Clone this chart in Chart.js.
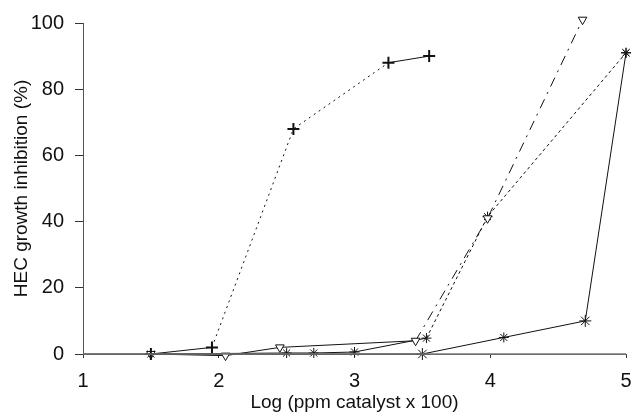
<!DOCTYPE html>
<html>
<head>
<meta charset="utf-8">
<script src="https://cdn.jsdelivr.net/npm/chart.js@4"></script>
<style>
  html, body { margin: 0; padding: 0; background: #fff; }
  #wrap { width: 634px; height: 413px; }
</style>
</head>
<body>
<div id="wrap"><canvas id="hecChart"></canvas></div>
<script>
// values (x = log of ppm catalyst x 100, y = % inhibition)
const xTicks = [1, 2, 3, 4, 5];
const yTicks = [0, 20, 40, 60, 80, 100];

const plusX = [1.5, 1.95, 2.55, 3.25, 3.55];
const plusY = [0, 2, 68, 88, 90];

const heartX = [1.5, 2.05, 2.45, 3.45, 3.98, 4.68];
const heartY = [0, -0.5, 2, 4, 41, 101];

const starX = [1.5, 2.5, 2.7, 3.0, 3.53, 3.98, 5.0];
const starY = [0, 0.3, 0.3, 0.6, 4.8, 41.5, 91];

const astX = [1.0, 3.5, 4.1, 4.7, 5.0];
const astY = [0, 0, 5, 10, 91];

const baseX = [1, 5];
const baseY = [0, 0];

function pts(xs, ys) {
  return xs.map((x, i) => ({ x: x, y: ys[i] }));
}

const fontFamily = "'Liberation Sans', Arial, sans-serif";

const data = {
  datasets: [
    {
      label: "control",
      data: pts(baseX, baseY),
      borderColor: "#777",
      borderWidth: 1.5,
      pointRadius: 0,
    },
    {
      label: "plus",
      data: pts(plusX, plusY),
      borderColor: "#111",
      borderWidth: 1,
      pointStyle: "cross",
      pointRadius: 6,
      pointBorderWidth: 2,
      pointBorderColor: "#111",
      segment: {
        borderDash: (ctx) => (ctx.p0DataIndex === 0 || ctx.p0DataIndex === 3 ? [] : [2, 4]),
      },
    },
    {
      label: "heart",
      data: pts(heartX, heartY),
      borderColor: "#111",
      borderWidth: 1,
      pointStyle: "triangle",
      rotation: 180,
      pointRadius: 5,
      pointBorderColor: "#111",
      pointBackgroundColor: "#fff",
      segment: {
        borderDash: (ctx) => (ctx.p0DataIndex >= 3 ? [10, 6, 2, 6] : []),
      },
    },
    {
      label: "star",
      data: pts(starX, starY),
      borderColor: "#111",
      borderWidth: 1,
      pointStyle: "star",
      pointRadius: 5,
      pointBorderColor: "#111",
      segment: {
        borderDash: (ctx) => (ctx.p0DataIndex >= 4 ? [3, 3] : []),
      },
    },
    {
      label: "asterisk",
      data: pts(astX, astY),
      borderColor: "#111",
      borderWidth: 1,
      pointStyle: "star",
      pointRadius: [0, 6, 5, 6, 5],
      pointBorderColor: "#111",
    },
  ],
};

const config = {
  type: "scatter",
  data: data,
  options: {
    responsive: true,
    maintainAspectRatio: false,
    animation: false,
    showLine: true,
    clip: false,
    layout: { padding: { top: 23, right: 0, left: 10, bottom: 0 } },
    plugins: {
      legend: { display: false },
      tooltip: { enabled: false },
    },
    scales: {
      x: {
        type: "linear",
        min: 1,
        max: 5,
        afterBuildTicks: (axis) => { axis.ticks = xTicks.map((v) => ({ value: v })); },
        // fix the axis box so the plot area lands where the figure has it
        afterFit: (scale) => { scale.height = 59; scale.paddingRight = 7; },
        grid: { drawOnChartArea: false, tickLength: 4, color: "#333" },
        border: { color: "#555", width: 1 },
        ticks: {
          color: "#111",
          padding: 13,
          maxRotation: 0,
          font: { family: fontFamily, size: 20, lineHeight: 1 },
        },
        title: {
          display: true,
          text: "Log (ppm catalyst x 100)",
          color: "#111",
          padding: { top: 0, bottom: 0 },
          font: { family: fontFamily, size: 19, lineHeight: 1.1 },
        },
      },
      y: {
        min: 0,
        max: 100,
        afterBuildTicks: (axis) => { axis.ticks = yTicks.map((v) => ({ value: v })); },
        afterFit: (scale) => { scale.width = 73; },
        grid: { drawOnChartArea: false, tickLength: 8, color: "#333" },
        border: { color: "#555", width: 1 },
        ticks: {
          color: "#111",
          padding: 11,
          font: { family: fontFamily, size: 20 },
        },
        title: {
          display: true,
          text: "HEC growth inhibition (%)",
          color: "#111",
          padding: { top: 0, bottom: 2 },
          font: { family: fontFamily, size: 19 },
        },
      },
    },
  },
};

const ctx = document.getElementById("hecChart").getContext("2d");
new Chart(ctx, config);
</script>
</body>
</html>
